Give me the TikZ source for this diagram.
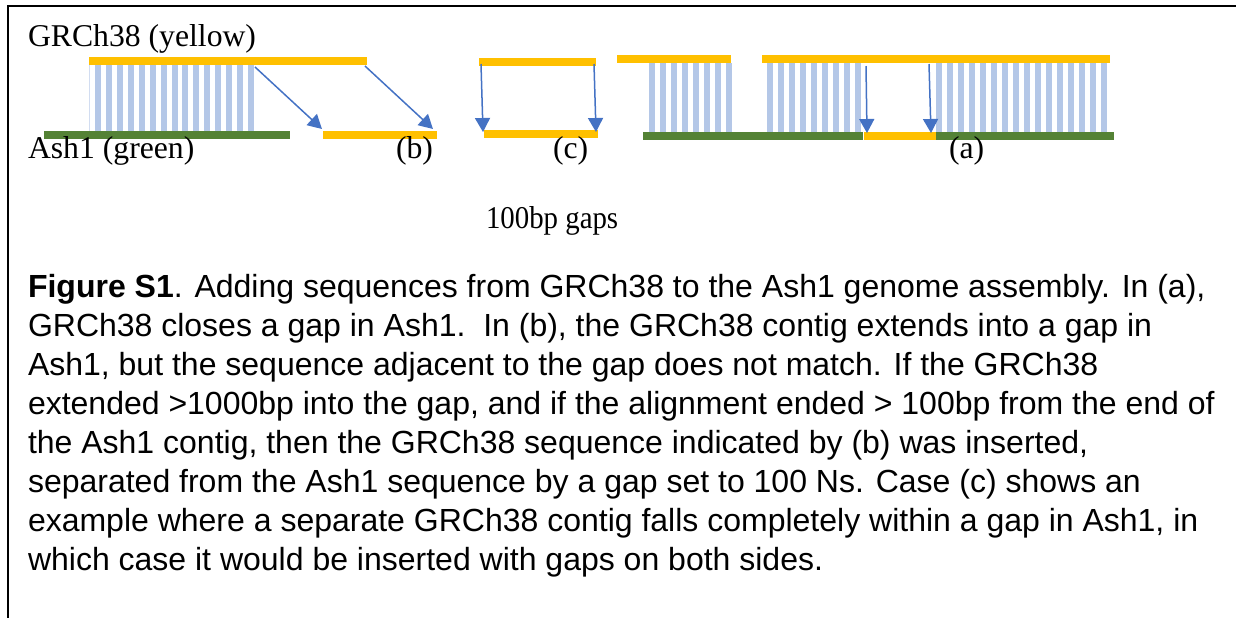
\documentclass[tikz,border=0pt]{standalone}
\usepackage{fontspec}
\setmainfont{Liberation Serif}
\newfontfamily\capfont{Liberation Sans}
\usetikzlibrary{arrows.meta}
\definecolor{ylw}{HTML}{FFC000}
\definecolor{grn}{HTML}{548235}
\definecolor{stp}{HTML}{B4C7E7}
\definecolor{arw}{HTML}{4472C4}
\tikzset{
  bar/.style={inner sep=0pt, outer sep=0pt, minimum height=4pt, draw=none},
  ybar/.style={bar, fill=ylw},
  gbar/.style={bar, fill=grn},
  stripe/.style={fill=stp, draw=none},
  arrowln/.style={draw=arw, line width=0.75pt, -{Triangle[width=7.5pt,length=7pt]}},
  lbl/.style={inner sep=0pt, outer sep=0pt, anchor=base west, font=\fontsize{15.85pt}{18pt}\selectfont},
  capline/.style={inner sep=0pt, outer sep=0pt, anchor=base west, font=\capfont\fontsize{16pt}{18pt}\selectfont},
  frame/.style={draw=black, line width=1pt}
}
\begin{document}
\begin{tikzpicture}[x=0.5pt, y=-0.5pt]
\useasboundingbox (0,0) rectangle (1236,618);
% frame
\coordinate (fr1) at (1236,6);
\coordinate (fr2) at (8,6);
\coordinate (fr3) at (8,618);
\draw[frame] (fr1) -- (fr2) -- (fr3);

% stripes
\draw[stp!60, line width=0.5pt] (89,65) -- (89,131);
\foreach \k in {0,...,14} { \path[stripe] ({95+10.93*\k},65) rectangle ({101+10.93*\k},131); }
\foreach \k in {0,...,7} { \path[stripe] ({649+11*\k},63) rectangle ({655+11*\k},132); }
\foreach \k in {0,...,8} { \path[stripe] ({767+11*\k},63) rectangle ({773+11*\k},132); }
\foreach \k in {0,...,15} { \path[stripe] ({936+11*\k},63) rectangle ({942+11*\k},132); }

% bars
\node[ybar, minimum width=139pt] (g1) at (228,61) {};
\node[ybar, minimum width=57pt] (gb) at (380,134.5) {};
\node[ybar, minimum width=58.5pt] (gc1) at (537.5,62) {};
\node[ybar, minimum width=57pt] (gc2) at (541,134) {};
\node[ybar, minimum width=57pt] (gA) at (674,59) {};
\node[ybar, minimum width=174pt] (gB) at (936,59) {};
\node[ybar, minimum width=36pt] (ggap) at (900,135.5) {};
\node[gbar, minimum width=123pt] (a1) at (167,134.5) {};
\node[gbar, minimum width=110pt] (aC) at (753,135.5) {};
\node[gbar, minimum width=89pt] (aD) at (1025,135.5) {};

% arrows
\coordinate (s1) at (255,67);  \coordinate (e1) at (322,129);
\coordinate (s2) at (365,66);  \coordinate (e2) at (433,129);
\coordinate (s3) at (481,64);  \coordinate (e3) at (483,132);
\coordinate (s4) at (594,64);  \coordinate (e4) at (596,132);
\coordinate (s5) at (866,66);  \coordinate (e5) at (867,133);
\coordinate (s6) at (929,64);  \coordinate (e6) at (931,133);
\draw[arrowln] (s1) -- (e1);
\draw[arrowln] (s2) -- (e2);
\draw[arrowln] (s3) -- (e3);
\draw[arrowln] (s4) -- (e4);
\draw[arrowln] (s5) -- (e5);
\draw[arrowln] (s6) -- (e6);

% labels
\node[lbl] (tg) at (28,46) {GRCh38 (yellow)};
\node[lbl] (ta) at (28,158) {Ash1 (green)};
\node[lbl] (tb) at (396,158) {(b)};
\node[lbl] (tc) at (553,158) {(c)};
\node[lbl] (tA) at (949,158) {(a)};
\node[lbl, xscale=0.91] (tgap) at (486,228) {100bp gaps};

% caption
\node[capline] (c1) at (28,297) {\textbf{Figure S1}. Adding sequences from GRCh38 to the Ash1 genome assembly. In (a),};
\node[capline] (c2) at (28,336) {GRCh38 closes a gap in Ash1.\ \ In (b), the GRCh38 contig extends into a gap in};
\node[capline] (c3) at (28,375) {Ash1, but the sequence adjacent to the gap does not match. If the GRCh38};
\node[capline] (c4) at (28,414) {extended >1000bp into the gap, and if the alignment ended > 100bp from the end of};
\node[capline] (c5) at (28,453) {the Ash1 contig, then the GRCh38 sequence indicated by (b) was inserted,};
\node[capline] (c6) at (28,492) {separated from the Ash1 sequence by a gap set to 100 Ns. Case (c) shows an};
\node[capline] (c7) at (28,531) {example where a separate GRCh38 contig falls completely within a gap in Ash1, in};
\node[capline] (c8) at (28,570) {which case it would be inserted with gaps on both sides.};
\end{tikzpicture}
\end{document}
